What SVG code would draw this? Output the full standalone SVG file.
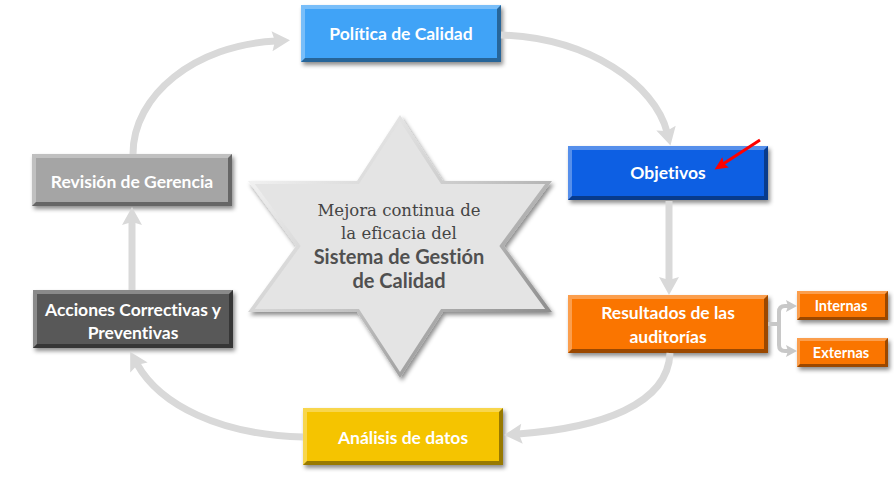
<svg xmlns="http://www.w3.org/2000/svg" width="894" height="480" viewBox="0 0 894 480">
<defs>
<style>
text{font-variant-ligatures:none;font-feature-settings:"liga" 0}
.lbl{font-family:Lato,"Liberation Sans",sans-serif;font-weight:700;font-size:17.5px;fill:#ffffff;text-anchor:middle}
.sm{font-size:14.5px}
.hl{fill:#ffffff;fill-opacity:0.3}
.dk{fill:#000000;fill-opacity:0.38}
.con{fill:none;stroke:#d9d9d9;stroke-width:7}
.br{fill:none;stroke:#c8c8c8;stroke-width:4}
.serif{font-family:"DejaVu Serif","Liberation Serif",serif;font-size:16.5px;fill:#444444;text-anchor:middle}
.sans{font-family:Lato,"Liberation Sans",sans-serif;font-weight:700;font-size:20px;fill:#505050;text-anchor:middle}
</style>
<filter id="sh" x="-10%" y="-20%" width="130%" height="150%">
<feDropShadow dx="2" dy="3" stdDeviation="2" flood-color="#000" flood-opacity="0.45"/>
</filter>
<marker id="ah" markerUnits="userSpaceOnUse" orient="auto" overflow="visible" markerWidth="30" markerHeight="30">
<path d="M14,0 L-4,-10 L-1,0 L-4,10 Z" fill="#d9d9d9"/>
</marker>
<marker id="ahs" markerUnits="userSpaceOnUse" orient="auto" overflow="visible" markerWidth="20" markerHeight="20">
<path d="M8,0 L-3,-6 L-1,0 L-3,6 Z" fill="#c8c8c8"/>
</marker>
<marker id="ahr" markerUnits="userSpaceOnUse" orient="auto" overflow="visible" markerWidth="20" markerHeight="20">
<path d="M10,0 L-3,-6 L-1,0 L-3,6 Z" fill="#ff0000"/>
</marker>
<linearGradient id="starEdge" x1="0" y1="0" x2="1" y2="1">
<stop offset="0" stop-color="#ffffff"/>
<stop offset="0.5" stop-color="#c8c8c8"/>
<stop offset="1" stop-color="#7a7a7a"/>
</linearGradient>
<polygon id="starShape" points="400,115 357,181 248,181 296,246 248,312 357,312 400,378 443,312 552,312 504,246 552,181 443,181"/>
</defs>

<g id="star">
<use href="#starShape" fill="url(#starEdge)" filter="url(#sh)"/>
<use href="#starShape" fill="#e4e4e4" transform="translate(400 246.5) scale(0.955) translate(-400 -246.5)"/>
<text class="serif" x="399" y="216">Mejora continua de</text>
<text class="serif" x="399" y="239">la eficacia del</text>
<text class="sans" x="399" y="264">Sistema de Gestión</text>
<text class="sans" x="399" y="288">de Calidad</text>
</g>

<g id="politica">
<rect x="301" y="5" width="200" height="57" fill="#3fa3f7" filter="url(#sh)"/>
<path class="hl" d="M301,5 H501 L497,9 H305 V58 L301,62 Z"/>
<path class="dk" d="M501,5 V62 H301 L305,58 H497 V9 Z"/>
<text class="lbl" x="401" y="39.5">Política de Calidad</text>
</g>

<g id="objetivos">
<rect x="568" y="146" width="200" height="54" fill="#0b5fe3" filter="url(#sh)"/>
<path class="hl" d="M568,146 H768 L764,150 H572 V196 L568,200 Z"/>
<path class="dk" d="M768,146 V200 H568 L572,196 H764 V150 Z"/>
<text class="lbl" x="668" y="179">Objetivos</text>
</g>

<g id="resultados">
<rect x="568" y="295" width="200" height="58" fill="#fa7506" filter="url(#sh)"/>
<path class="hl" d="M568,295 H768 L764,299 H572 V349 L568,353 Z"/>
<path class="dk" d="M768,295 V353 H568 L572,349 H764 V299 Z"/>
<text class="lbl" x="668" y="318.5">Resultados de las</text>
<text class="lbl" x="668" y="342.5">auditorías</text>
</g>

<g id="internas">
<rect x="797" y="291" width="91" height="29" fill="#fa7506" filter="url(#sh)"/>
<path class="hl" d="M797,291 H888 L885,294 H800 V317 L797,320 Z"/>
<path class="dk" d="M888,291 V320 H797 L800,317 H885 V294 Z"/>
<text class="lbl sm" x="841" y="310.5">Internas</text>
</g>

<g id="externas">
<rect x="797" y="338" width="91" height="29" fill="#fa7506" filter="url(#sh)"/>
<path class="hl" d="M797,338 H888 L885,341 H800 V364 L797,367 Z"/>
<path class="dk" d="M888,338 V367 H797 L800,364 H885 V341 Z"/>
<text class="lbl sm" x="841" y="357.5">Externas</text>
</g>

<g id="analisis">
<rect x="303" y="408" width="200" height="57" fill="#f5c400" filter="url(#sh)"/>
<path class="hl" d="M303,408 H503 L499,412 H307 V461 L303,465 Z"/>
<path class="dk" d="M503,408 V465 H303 L307,461 H499 V412 Z"/>
<text class="lbl" x="403" y="444">Análisis de datos</text>
</g>

<g id="acciones">
<rect x="33" y="290" width="200" height="58" fill="#595959" filter="url(#sh)"/>
<path class="hl" d="M33,290 H233 L229,294 H37 V344 L33,348 Z"/>
<path class="dk" d="M233,290 V348 H33 L37,344 H229 V294 Z"/>
<text class="lbl" x="133" y="316">Acciones Correctivas y</text>
<text class="lbl" x="133" y="339">Preventivas</text>
</g>

<g id="revision">
<rect x="32" y="154" width="200" height="52" fill="#a5a5a5" filter="url(#sh)"/>
<path class="hl" d="M32,154 H232 L228,158 H36 V202 L32,206 Z"/>
<path class="dk" d="M232,154 V206 H32 L36,202 H228 V158 Z"/>
<text class="lbl" x="132" y="187.5" fill="#f2f2f2">Revisión de Gerencia</text>
</g>

<g id="connectors">
<path class="con" d="M501,35 C590,38 655,85 667,132" marker-end="url(#ah)"/>
<path class="con" d="M669,201 V281" marker-end="url(#ah)"/>
<path class="con" d="M670,353 C668,405 600,428 518,434" marker-end="url(#ah)"/>
<path class="con" d="M303,437 C220,435 160,405 137,364" marker-end="url(#ah)"/>
<path class="con" d="M132,290 V221" marker-end="url(#ah)"/>
<path class="con" d="M133,154 C133,95 195,45 276,41" marker-end="url(#ah)"/>
<path class="br" d="M768,324 H779"/>
<path class="br" d="M779,326 V312 Q779,306 785,306 H789" marker-end="url(#ahs)"/>
<path class="br" d="M779,322 V345 Q779,351 785,351 H789" marker-end="url(#ahs)"/>
<path d="M760,140 L723,164" fill="none" stroke="#ff0000" stroke-width="3" marker-end="url(#ahr)"/>
</g>
</svg>
